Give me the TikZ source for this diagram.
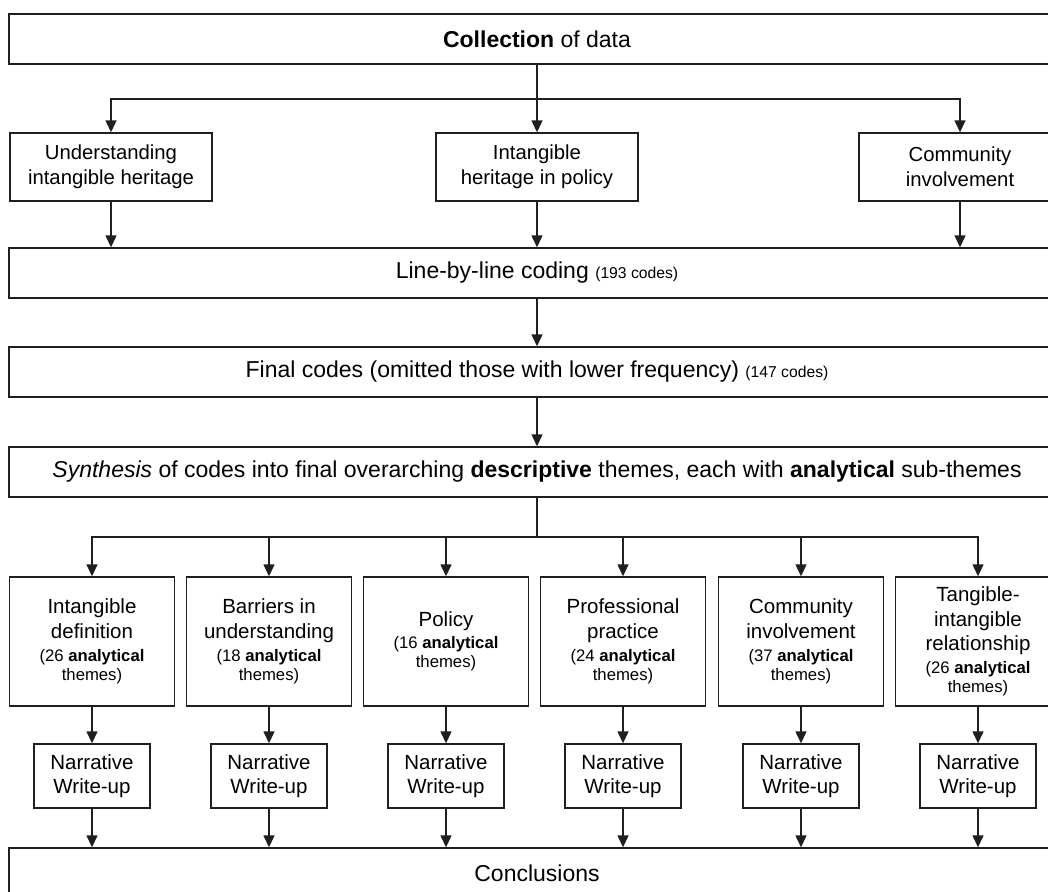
\documentclass[tikz,border=0pt]{standalone}
\usepackage{fontspec}
\setmainfont{Liberation Sans}
\usetikzlibrary{arrows.meta}
\newcommand\codesize{\fontsize{15.7}{18}\selectfont}
\newcommand\subsize{\fontsize{16.7}{19}\selectfont}
\begin{document}
\begin{tikzpicture}[x=1pt,y=-1pt,
  box/.style={draw=black!88, line width=1.4pt, inner sep=0pt, align=center},
  wide/.style={box, minimum width=1056pt, minimum height=50pt, font=\fontsize{23}{27}\selectfont},
  srcbox/.style={box, minimum width=202pt, minimum height=68pt, font=\fontsize{20.3}{25}\selectfont},
  themebox/.style={box, minimum width=165pt, minimum height=129pt, font=\fontsize{20.5}{24.5}\selectfont},
  storybox/.style={box, minimum width=116pt, minimum height=64pt, font=\fontsize{20.5}{24}\selectfont},
  link/.style={draw=black!88, line width=1.4pt},
  arr/.style={link, -{Triangle[length=12pt,width=11pt]}}]

\path[use as bounding box] (0,0) rectangle (1048,891);
\clip (0,0) rectangle (1048,891);
\fill[white] (0,0) rectangle (1048,891);

% data collection and its three strands
\node[wide] (collect) at (537,39) {\textbf{Collection} of data};
\node[srcbox] (src1) at (111,167) {Understanding\\intangible heritage};
\node[srcbox] (src2) at (537,167) {Intangible\\heritage in policy};
\node[srcbox] (src3) at (960,167) {Community\\involvement};

% coding stages
\node[wide] (coding) at (537,273) {Line-by-line coding {\codesize(193 codes)}};
\node[wide] (final) at (537,372) {Final codes (omitted those with lower frequency) {\codesize(147 codes)}};
\node[wide] (synth) at (537,472) {\textit{Synthesis} of codes into final overarching \textbf{descriptive} themes, each with \textbf{analytical} sub-themes};

% descriptive themes
\node[themebox] (t1) at (92,641.5) {Intangible\\definition\\[-1pt]{\subsize(26 \textbf{analytical}}\\[-5.5pt]{\subsize themes)}};
\node[themebox] (t2) at (269,641.5) {Barriers in\\understanding\\[-1pt]{\subsize(18 \textbf{analytical}}\\[-5.5pt]{\subsize themes)}};
\node[themebox] (t3) at (446,641.5) {Policy\\[-2pt]{\subsize(16 \textbf{analytical}}\\[-5.5pt]{\subsize themes)}};
\node[themebox] (t4) at (623,641.5) {Professional\\practice\\[-1pt]{\subsize(24 \textbf{analytical}}\\[-5.5pt]{\subsize themes)}};
\node[themebox] (t5) at (801,641.5) {Community\\involvement\\[-1pt]{\subsize(37 \textbf{analytical}}\\[-5.5pt]{\subsize themes)}};
\node[themebox] (t6) at (978,641.5) {Tangible-\\intangible\\relationship\\[-1.5pt]{\subsize(26 \textbf{analytical}}\\[-5.5pt]{\subsize themes)}};

% write-ups
\foreach \i/\x in {1/92,2/269,3/446,4/623,5/801,6/978}
  \node[storybox] (n\i) at (\x,776) {Narrative\\Write-up};

\node[wide] (conc) at (537,873) {Conclusions};

% connectors
\coordinate (fork1) at (537,99);
\draw[link] (collect) -- (fork1);
\draw[arr] (fork1) -| (src1);
\draw[arr] (fork1) -- (src2);
\draw[arr] (fork1) -| (src3);
\foreach \s in {src1,src2,src3}
  \draw[arr] (\s) -- (\s |- coding.north);
\draw[arr] (coding) -- (final);
\draw[arr] (final) -- (synth);

\coordinate (fork2) at (537,537);
\draw[link] (synth) -- (fork2);
\foreach \i in {1,...,6}{
  \draw[arr] (fork2) -| (t\i);
  \draw[arr] (t\i) -- (n\i);
  \draw[arr] (n\i) -- (n\i |- conc.north);
}
\end{tikzpicture}
\end{document}
